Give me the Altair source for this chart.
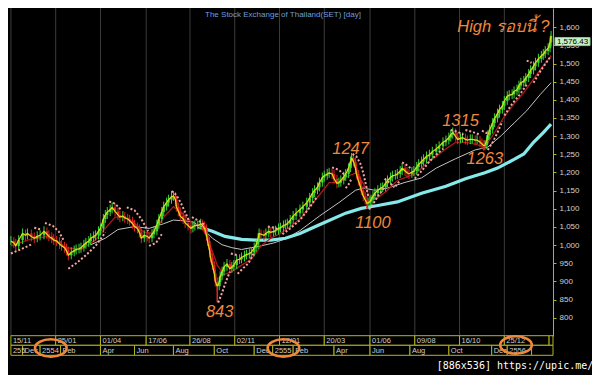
import altair as alt
import pandas as pd

# ---------------- data ----------------
# (trading-day index from 15/11/2553, SET close)
price = [
    (0,1011),(3,1006),(5,998),(8,1014),(12,1032),(15,1027),(17,1032),(21,1024),(24,1019),(27,1024),
    (30,1027),(34,1038),(37,1030),(39,1024),(42,1019),(44,1014),(47,1011),(50,1003),(52,998),(55,993),
    (57,985),(59,972),(62,980),(65,985),(67,988),(70,990),(72,993),(75,1001),(77,1006),(80,1011),
    (82,1019),(85,1024),(87,1027),(90,1038),(92,1046),(95,1072),(97,1083),(99,1091),(102,1098),(104,1104),
    (107,1093),(110,1083),(112,1077),(115,1080),(117,1075),(120,1072),(122,1067),(125,1059),(127,1051),(130,1046),
    (132,1035),(134,1019),(137,1027),(140,1024),(142,1019),(145,1030),(147,1038),(150,1056),(152,1072),(155,1091),
    (157,1106),(160,1117),(162,1125),(165,1133),(167,1135),(169,1125),(170,1106),(172,1093),(174,1080),(177,1072),
    (179,1061),(182,1054),(185,1046),(187,1051),(189,1054),(192,1054),(195,1059),(197,1054),(199,1046),(201,1027),
    (202,1011),(204,987),(205,966),(207,945),(209,922),(210,900),(212,887),(214,898),(215,914),(217,927),
    (219,940),(222,948),(225,935),(227,940),(229,945),(232,959),(235,961),(237,966),(240,971),(242,974),
    (245,977),(247,980),(250,993),(252,1001),(254,1019),(255,1032),(257,1030),(260,1027),(262,1032),(265,1038),
    (267,1035),(270,1038),(272,1040),(275,1046),(277,1048),(280,1054),(282,1056),(284,1059),(287,1069),(290,1080),
    (293,1088),(297,1098),(300,1106),(304,1117),(307,1130),(310,1143),(312,1151),(315,1159),(317,1172),(320,1186),
    (322,1191),(325,1196),(327,1199),(330,1196),(332,1183),(335,1170),(337,1172),(339,1178),(342,1188),(344,1196),
    (347,1212),(349,1230),(350,1240),(352,1230),(354,1212),(355,1196),(357,1178),(359,1162),(360,1151),(362,1135),
    (364,1125),(366,1114),(367,1117),(369,1120),(370,1125),(372,1135),(374,1143),(377,1151),(380,1157),(382,1159),
    (385,1170),(387,1178),(390,1186),(392,1191),(395,1193),(397,1196),(400,1204),(402,1212),(405,1204),(407,1199),
    (409,1196),(412,1201),(414,1204),(417,1215),(419,1223),(422,1230),(424,1236),(427,1244),(430,1249),(433,1257),
    (437,1265),(440,1272),(444,1283),(447,1288),(450,1296),(452,1304),(454,1310),(457,1299),(459,1291),(462,1294),
    (464,1296),(467,1291),(469,1289),(472,1291),(474,1291),(477,1289),(479,1289),(482,1283),(484,1278),(486,1273),
    (487,1275),(489,1289),(490,1302),(492,1318),(495,1336),(497,1349),(500,1362),(502,1373),(505,1383),(507,1397),
    (510,1410),(512,1413),(515,1415),(517,1423),(520,1428),(522,1439),(524,1447),(527,1452),(529,1460),(532,1471),
    (534,1481),(537,1492),(539,1502),(542,1513),(545,1521),(547,1526),(549,1534),(552,1542),(554,1558),(555,1576),
]

# extreme candle shadows (index, value)
wicks = [(212, 843), (350, 1247), (366, 1100), (454, 1315), (486, 1263)]

ma_short = [
    (0,998),(17,1014),(37,1024),(57,993),(72,988),(87,1014),(97,1046),(107,1077),(117,1077),(127,1061),
    (137,1035),(147,1032),(157,1077),(167,1106),(177,1085),(187,1059),(197,1046),(204,1006),(212,945),(219,919),
    (227,927),(237,945),(247,961),(257,998),(267,1019),(277,1032),(287,1051),(297,1072),(307,1106),(317,1138),
    (327,1172),(337,1172),(347,1191),(355,1199),(362,1170),(369,1130),(377,1130),(387,1151),(397,1178),(407,1188),
    (417,1199),(427,1225),(437,1244),(447,1265),(457,1283),(467,1283),(477,1278),(487,1270),(497,1310),(507,1354),
    (517,1389),(527,1420),(537,1457),(547,1494),(555,1521),
]

ma_mid = [
    (82,1001),(97,1019),(110,1043),(127,1051),(142,1046),(157,1059),(167,1069),(177,1067),(187,1064),(197,1046),
    (207,1019),(217,1001),(227,993),(237,988),(247,993),(257,998),(270,1006),(282,1017),(297,1040),(317,1080),
    (337,1117),(354,1151),(362,1157),(374,1151),(387,1157),(404,1172),(422,1185),(437,1212),(457,1238),(477,1262),
    (490,1270),(504,1302),(517,1336),(530,1370),(544,1415),(555,1447),
]

ma_long = [
    (192,1051),(207,1038),(220,1024),(237,1016),(252,1014),(267,1014),(282,1019),(297,1032),(317,1056),(344,1088),
    (360,1101),(377,1109),(397,1119),(422,1143),(447,1162),(467,1183),(487,1199),(500,1212),(517,1236),(527,1251),
    (537,1283),(547,1310),(555,1333),
]

# parabolic SAR stretches: (stretch, index, value)
sar = [
    (1,0,977),(1,9,987),(1,22,1003),
    (2,24,1048),(2,31,1043),
    (3,35,1061),(3,43,1053),(3,49,1038),(3,54,1014),
    (4,59,935),(4,67,950),(4,77,972),(4,87,998),(4,97,1035),
    (5,101,1120),(5,107,1114),(5,113,1098),
    (6,119,1104),(6,127,1096),(6,134,1072),(6,141,1038),
    (7,142,998),(7,149,1006),(7,155,1030),
    (8,165,1149),(8,170,1138),(8,175,1114),(8,180,1085),(8,183,1067),
    (9,186,1077),(9,193,1067),(9,199,1056),
    (10,213,842),(10,217,869),(10,221,900),(10,225,927),
    (11,226,977),(11,233,972),
    (12,233,921),(12,237,932),(12,244,950),(12,250,980),
    (13,264,1051),(13,270,1048),(13,276,1043),
    (14,279,1030),(14,287,1046),(14,297,1069),(14,307,1104),(14,315,1135),
    (15,330,1214),(15,337,1207),(15,343,1193),
    (16,344,1157),(16,347,1167),(16,350,1183),
    (17,351,1251),(17,355,1244),(17,359,1225),(17,362,1199),(17,365,1164),(17,367,1135),
    (18,368,1098),(18,373,1117),(18,378,1138),(18,383,1156),
    (19,384,1183),(19,389,1172),(19,394,1159),
    (20,395,1162),(20,400,1178),
    (21,402,1228),(21,407,1220),(21,412,1209),
    (22,415,1183),(22,422,1204),(22,430,1230),(22,437,1249),(22,444,1265),
    (23,452,1317),(23,459,1312),(23,465,1304),
    (24,467,1317),(24,474,1312),(24,482,1304),
    (25,484,1315),(25,490,1307),
    (26,490,1262),(26,495,1283),(26,500,1310),(26,505,1341),
    (27,507,1357),(27,515,1389),(27,523,1415),(27,530,1442),
    (28,530,1508),(28,535,1502),
    (29,537,1447),(29,544,1479),(29,550,1502),(29,555,1521),
]

ann_text = ["1247", "1100", "843", "1315", "1263", "High รอบนี้ ?"]
ann_idx = [349, 372, 214.5, 462, 487, 506]
ann_val = [1265, 1062, 816, 1341, 1236, 1600]

grid_idx = [0, 46, 92, 139, 184, 230, 276, 322, 369, 415, 461, 507]
row1_idx = [0, 46, 92, 139, 184, 230, 276, 322, 369, 415, 461, 507, 553, 557]
row1_lab = ["15/11", "25/01", "01/04", "17/06", "26/08", "02/11", "12/01", "20/03",
            "01/06", "09/08", "16/10", "25/12", ""]
row2_idx = [0, 12, 30, 51, 92, 127, 167, 209, 250, 269, 290, 332, 369, 410, 450, 494, 510, 535, 557]
row2_lab = ["255", "Dec", "2554", "Feb", "Apr", "Jun", "Aug", "Oct", "Dec", "2555",
            "Feb", "Apr", "Jun", "Aug", "Oct", "Dec", "2556", ""]
circle_idx = [41, 280, 519]
circle_row = [340, 340, 337]

y_ticks = list(range(800, 1601, 50))
last_close = "1,576.43"
title_text = "The Stock Exchange of Thailand(SET) [day]"
watermark = "[886x536] https://upic.me/"

# ---------------- layout ----------------
W, H = 545, 328
FONT = "Liberation Sans"
ORANGE = "#f0883c"
OLIVE = "#b4b41e"
GREEN = "#3ad63a"
RED = "#e02424"

xs = alt.Scale(domain=[-3, 557], nice=False, zero=False)
ys = alt.Scale(domain=[749.8, 1652.8], nice=False, zero=False)
yaxis = alt.Axis(orient="right", values=y_ticks, format=",d", title=None, grid=False,
                 labelColor="#d2d2d2", labelFontSize=8, labelFont=FONT, zindex=0,
                 domainColor=OLIVE, tickColor=OLIVE, tickSize=3, labelPadding=3)
X = alt.X("i:Q", scale=xs, axis=None)
Y = alt.Y("v:Q", scale=ys, axis=yaxis)

pdf = pd.DataFrame(price, columns=["i", "v"])
pdf["pv"] = pdf["v"].shift(1).fillna(pdf["v"].iloc[0])
pdf["up"] = pdf["v"] >= pdf["pv"]

wdf = pd.DataFrame(wicks, columns=["i", "v"]).merge(
    pdf[["i", "v"]].rename(columns={"v": "base"}), on="i", how="left")
wdf["up"] = wdf["v"] > wdf["base"]

grid = alt.Chart(pd.DataFrame({"i": grid_idx})).mark_rule(
    color="#3c3c3c", strokeWidth=1).encode(x=X)

def line(pairs, color, width, **kw):
    return alt.Chart(pd.DataFrame(pairs, columns=["i", "v"])).mark_line(
        color=color, strokeWidth=width, **kw).encode(x=X, y=Y)

l_mid = line(ma_mid, "#c4c4c4", 1)
l_long = line(ma_long, "#86eaea", 3.2)
l_short = line(ma_short, "#b01818", 1.3)

base = alt.Chart(pdf)
shadow_up = base.transform_filter("datum.up").mark_rule(
    strokeWidth=1, color=GREEN, yOffset=-5, y2Offset=4).encode(x=X, y=Y, y2="pv:Q")
shadow_dn = base.transform_filter("!datum.up").mark_rule(
    strokeWidth=1, color=RED, yOffset=5, y2Offset=-4).encode(x=X, y=Y, y2="pv:Q")
candles = base.mark_rule(strokeWidth=2.4).encode(
    x=X, y=Y, y2="pv:Q",
    color=alt.condition("datum.up", alt.value(GREEN), alt.value(RED)))
closes = line(price, "#dede1a", 1.2)

wick = alt.Chart(wdf).mark_rule(strokeWidth=1.5).encode(
    x=X, y=Y, y2="base:Q",
    color=alt.condition("datum.up", alt.value(GREEN), alt.value(RED)))

sdf = pd.DataFrame(sar, columns=["s", "i", "v"])
sar_l = alt.Chart(sdf).mark_line(color="#f4a4a4", strokeWidth=2, strokeDash=[2, 2]).encode(
    x=X, y=Y, detail="s:N")

adf = pd.DataFrame({"t": ann_text, "i": ann_idx, "v": ann_val})
ann = alt.Chart(adf).mark_text(font=FONT, fontStyle="italic", fontSize=16.5,
                               color=ORANGE, align="center", baseline="middle").encode(
    x=X, y=Y, text="t:N")

# date rows
r1 = pd.DataFrame({"i": row1_idx[:-1], "i2": row1_idx[1:], "t": row1_lab})
r2 = pd.DataFrame({"i": row2_idx[:-1], "i2": row2_idx[1:], "t": row2_lab})
r1y, r2y, r3y = 327.7, 337.3, 347.3
box1 = alt.Chart(r1).mark_rect(fill="black", stroke=OLIVE, strokeWidth=1).encode(
    x=X, x2="i2:Q", y=alt.value(r1y), y2=alt.value(r2y))
box2 = alt.Chart(r2).mark_rect(fill="black", stroke=OLIVE, strokeWidth=1).encode(
    x=X, x2="i2:Q", y=alt.value(r2y), y2=alt.value(r3y))
txt1 = alt.Chart(r1).mark_text(font=FONT, fontSize=7.5, color="#cfcfcf", align="left",
                               baseline="middle", dx=2).encode(
    x=X, y=alt.value((r1y + r2y) / 2 + 0.5), text="t:N")
txt2 = alt.Chart(r2).mark_text(font=FONT, fontSize=7.5, color="#cfcfcf", align="left",
                               baseline="middle", dx=2).encode(
    x=X, y=alt.value((r2y + r3y) / 2 + 0.5), text="t:N")

ell_path = "M-1,0 A1,0.55 0 1,1 1,0 A1,0.55 0 1,1 -1,0 Z"
circles = alt.Chart(pd.DataFrame({"i": circle_idx, "py": circle_row})).mark_point(
    shape=ell_path, size=1000, filled=False, stroke=ORANGE, strokeWidth=2.6, opacity=1).encode(
    x=X, y=alt.Y("py:Q", scale=None))

title = alt.Chart(pd.DataFrame({"t": [title_text]})).mark_text(
    font=FONT, fontSize=8, color="#6f9fdc", align="center", baseline="middle").encode(
    x=alt.value(275), y=alt.value(6.8), text="t:N")

pbox = alt.Chart(pd.DataFrame({"t": [last_close]})).mark_rect(
    fill="#c6efc6", stroke="#8fcf8f").encode(
    x=alt.value(547), x2=alt.value(582), y=alt.value(29.6), y2=alt.value(37.6))
ptxt = alt.Chart(pd.DataFrame({"t": [last_close]})).mark_text(
    font=FONT, fontSize=8, color="#000000", align="center", baseline="middle").encode(
    x=alt.value(564.5), y=alt.value(34), text="t:N")

wm = alt.Chart(pd.DataFrame({"t": [watermark]})).mark_text(
    font="DejaVu Sans Mono", fontSize=10, color="#ffffff", align="center",
    baseline="middle").encode(x=alt.value(507), y=alt.value(357.5), text="t:N")

chart = alt.layer(
    grid, l_mid, l_long, l_short, shadow_up, shadow_dn, candles, closes, wick, sar_l, ann,
    box1, box2, txt1, txt2, circles, title, pbox, ptxt, wm,
).properties(
    width=W, height=H,
    autosize=alt.AutoSizeParams(type="none"),
    padding={"left": 0, "top": 0, "right": 39, "bottom": 39},
    background="#000000",
).configure_view(stroke=None)

chart.save("out.html", embed_options={"renderer": "svg", "actions": False})
